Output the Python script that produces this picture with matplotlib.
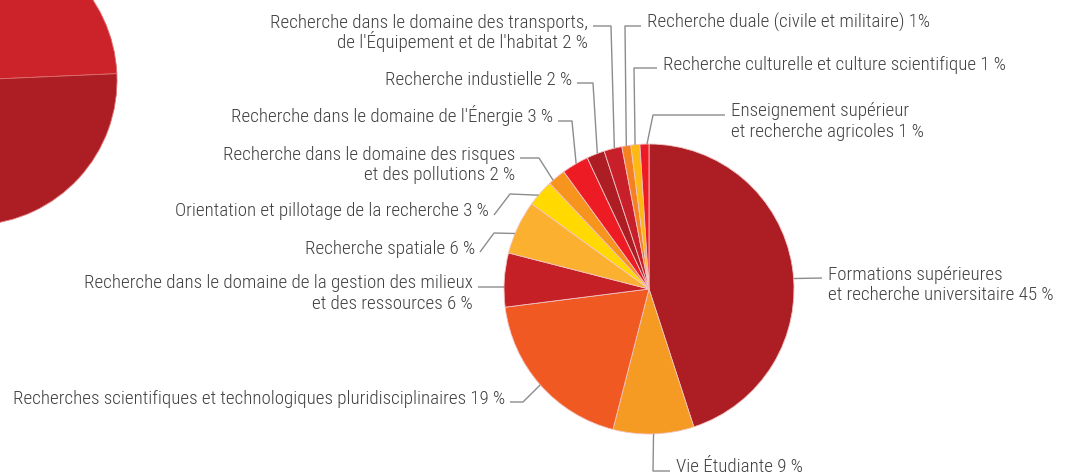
import matplotlib
matplotlib.use('Agg')
import matplotlib.pyplot as plt
import numpy as np
from matplotlib import font_manager

W, H = 1071, 476

# main pie
labels = [
    'Formations supérieures\net recherche universitaire 45 %',
    'Vie Étudiante 9 %',
    'Recherches scientifiques et technologiques pluridisciplinaires 19 %',
    'Recherche dans le domaine de la gestion des milieux\net des ressources 6 %',
    'Recherche spatiale 6 %',
    'Orientation et pillotage de la recherche 3 %',
    'Recherche dans le domaine des risques\net des pollutions 2 %',
    "Recherche dans le domaine de l'Énergie 3 %",
    'Recherche industielle 2 %',
    "Recherche dans le domaine des transports,\nde l'Équipement et de l'habitat 2 %",
    'Recherche duale (civile et militaire) 1%',
    'Recherche culturelle et culture scientifique 1 %',
    'Enseignement supérieur\net recherche agricoles 1 %',
]
values = [45, 9, 19, 6, 6, 3, 2, 3, 2, 2, 1, 1, 1]
colors = ['#AC1E23', '#F59B23', '#F05A22', '#C62027', '#FBB030', '#FFD900',
          '#F7941D', '#ED1C24', '#AD1E24', '#C8202A', '#F58220', '#FDB913',
          '#ED1C24']

# cut-off pie of the previous chart (left edge)
prev_values = [50, 50]
prev_colors = ['#CC2229', '#AC1E23']

# leader lines: where they touch each wedge (0=start, 1=end, clockwise)
touch = [0.53, 0.5, 0.5, 0.37, 0.375, 0.4, 0.25, 0.54, 0.6, 0.58, 0.5, 0.47, 0.78]
# elbows in pixels, text side first
elbows = [
    [(822, 278)],
    [(670, 471), (653, 471)],
    [(510, 402), (523, 402)],
    [(478, 287)],
    [(480, 252), (494, 233)],
    [(494, 215), (510, 194)],
    [(520, 158), (539, 158)],
    [(558, 121), (572, 121)],
    [(577, 83), (593, 83)],
    [(593, 26), (611, 26)],
    [(641, 26), (625, 26)],
    [(657, 68), (634, 68)],
    [(725, 115), (653, 115)],
]
sides = ['left', 'left', 'right', 'right', 'right', 'right', 'right',
         'right', 'right', 'right', 'left', 'left', 'left']

names = {f.name for f in font_manager.fontManager.ttflist}
fam = 'DejaVu Sans'
for cand in ['Liberation Sans Narrow', 'Roboto Condensed', 'Roboto', 'Liberation Sans']:
    if cand in names:
        fam = cand
        break
plt.rcParams['font.family'] = [fam, 'DejaVu Sans']

fig = plt.figure(figsize=(W / 100, H / 100), dpi=100)
ax = fig.add_axes([0, 0, 1, 1])

cx, cy, r = 649, H - 289, 145
wedges, _ = ax.pie(values, colors=colors, startangle=90, counterclock=False,
                   center=(cx, cy), radius=r,
                   wedgeprops=dict(linewidth=0.6, edgecolor='#f2c4c4'))
ax.pie(prev_values, colors=prev_colors, startangle=2.5, counterclock=True,
       center=(-28, H - 80), radius=145,
       wedgeprops=dict(linewidth=0.6, edgecolor='#e07070'))

for w, f, el, side, lab in zip(wedges, touch, elbows, sides, labels):
    ang = np.deg2rad(w.theta2 - f * (w.theta2 - w.theta1))
    px, py = cx + r * np.cos(ang), cy + r * np.sin(ang)
    xs = [p[0] for p in el] + [px]
    ys = [H - p[1] for p in el] + [py]
    ax.plot(xs, ys, color='#8c8c8c', lw=1.0, solid_capstyle='butt')
    tx = el[0][0] + (6 if side == 'left' else -5)
    base = el[0][1] + 1.5
    for i, line in enumerate(lab.split('\n')):
        ax.text(tx, H - (base + i * 20.5), line, ha=side, va='baseline',
                fontsize=13.65, color='#404040', fontweight='light')

ax.set_xlim(0, W)
ax.set_ylim(0, H)
ax.set_aspect('equal')
ax.axis('off')

plt.savefig('out.png', dpi=100)
